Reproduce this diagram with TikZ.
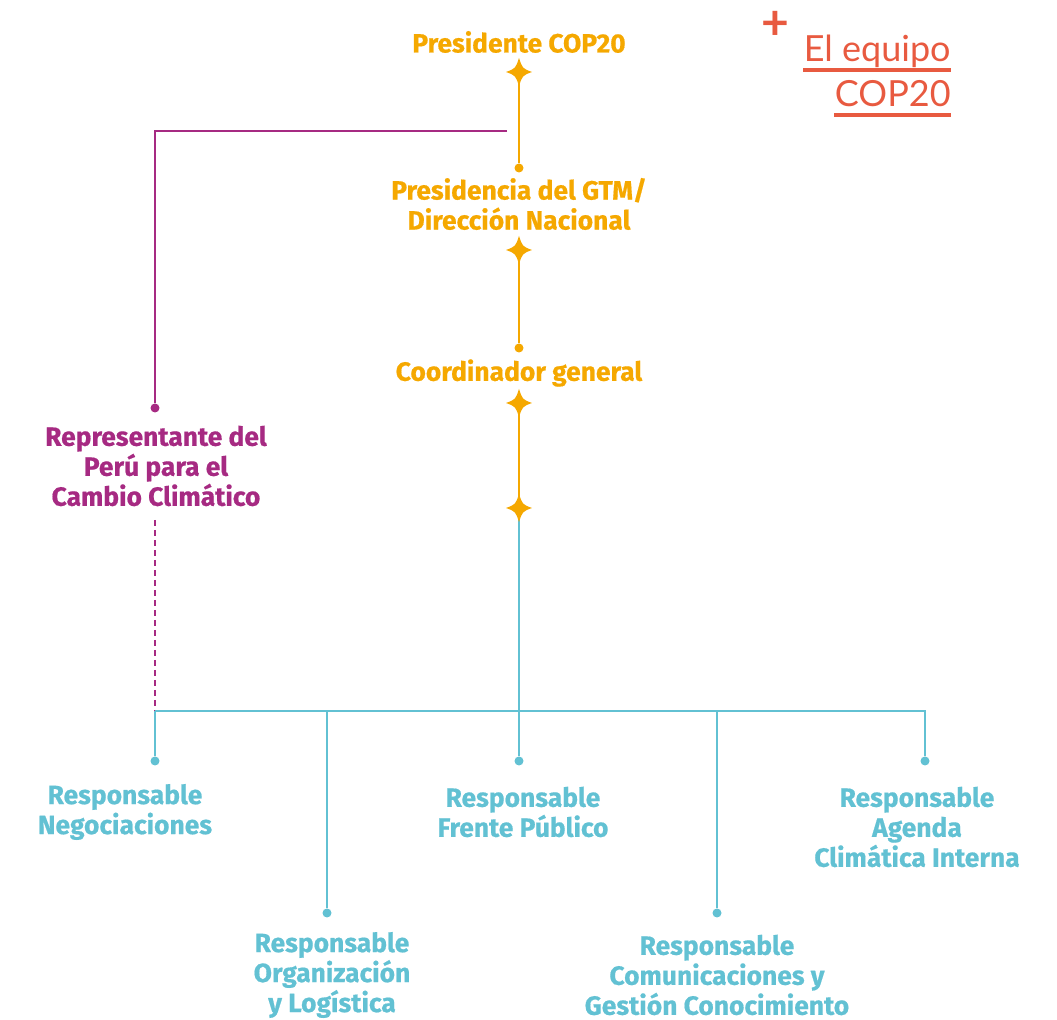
\documentclass[tikz,border=0pt]{standalone}
\usepackage{fontspec}
\setmainfont{Fira Sans}[BoldFeatures={FakeBold=0.6}]
\newfontfamily\titlefont{Lato}
\usetikzlibrary{positioning}
\definecolor{copgold}{HTML}{F5A800}
\definecolor{coppurple}{HTML}{A62A82}
\definecolor{copteal}{HTML}{62C1D3}
\definecolor{copred}{HTML}{E85A40}
\tikzset{
  post/.style={font=\bfseries\fontsize{13.2}{15}\selectfont, align=center, inner sep=0pt},
  headline/.style={font=\titlefont\fontsize{18}{20}\selectfont, text=copred, inner sep=0pt},
  link/.style={line width=1pt},
  dot/.style={circle, fill, inner sep=0pt, minimum size=4.5pt},
  spark/.pic={\fill (0,14) .. controls (3.5,3.5) .. (13,0) .. controls (3.5,-3.5) .. (0,-14) .. controls (-3.5,-3.5) .. (-13,0) .. controls (-3.5,3.5) .. cycle;}
}

\begin{document}
\begin{tikzpicture}[x=0.5pt,y=-0.5pt]
  \useasboundingbox (0,0) rectangle (1057,1020);
  % title
  \node[headline, font=\titlefont\bfseries\fontsize{24}{24}\selectfont] (plus) at (775,25) {+};
  \node[headline, anchor=base east] (equipo) at (951,62) {El equipo};
  \node[headline, anchor=base east] (cop) at (951,107) {COP20};
  \draw[copred, line width=2pt] ([yshift=-4pt]equipo.base west) -- ([yshift=-4pt]equipo.base east);
  \draw[copred, line width=2pt] ([yshift=-4pt]cop.base west) -- ([yshift=-4pt]cop.base east);
  % orange chain
  \node[post, text=copgold] (pres) at (519,42) {Presidente COP20};
  \coordinate (s1) at (519,72);
  \node[dot, copgold] (d1) at (519,168) {};
  \node[post, text=copgold] (gtm) at (519,204) {Presidencia del GTM/\\Dirección Nacional};
  \coordinate (s2) at (519,250);
  \node[dot, copgold] (d2) at (519,348) {};
  \node[post, text=copgold] (coord) at (519,373) {Coordinador general};
  \coordinate (s3) at (519,403);
  \coordinate (s4) at (519,508);
  \draw[link, copgold] (s1) -- (d1);
  \draw[link, copgold] (s2) -- (d2);
  \draw[link, copgold] (s3) -- (s4);
  % representante
  \node[dot, coppurple] (drep) at (155,408) {};
  \node[post, text=coppurple] (rep) at (156,466) {Representante del\\Perú para el\\Cambio Climático};
  \coordinate (kp) at (507,131);
  \coordinate (bus) at (155,711);
  \draw[link, coppurple] (kp) -| (drep);
  \draw[link, coppurple, dash pattern=on 3pt off 2pt] (155,520) -- (bus);
  % teal tree
  \node[dot, copteal] (dneg) at (155,761) {};
  \node[dot, copteal] (dorg) at (327,913) {};
  \node[dot, copteal] (dfre) at (519,761) {};
  \node[dot, copteal] (dcom) at (717,913) {};
  \node[dot, copteal] (dage) at (925,761) {};
  \draw[link, copteal] (s4) -- (dfre);
  \draw[link, copteal] (bus) -- (dneg);
  \draw[link, copteal] (bus) -- (925,711) -- (dage);
  \draw[link, copteal] (dorg) |- (bus);
  \draw[link, copteal] (dcom) |- (bus);
  \foreach \s in {s1,s2,s3,s4} \pic[copgold] at (\s) {spark};
  \node[post, text=copteal] (neg) at (125,812) {Responsable\\Negociaciones};
  \node[post, text=copteal] (fre) at (523,812) {Responsable\\Frente Público};
  \node[post, text=copteal] (age) at (917,827) {Responsable\\Agenda\\Climática Interna};
  \node[post, text=copteal] (org) at (332,975) {Responsable\\Organización\\y Logística};
  \node[post, text=copteal] (com) at (717,975) {Responsable\\Comunicaciones y\\Gestión Conocimiento};
\end{tikzpicture}
\end{document}
